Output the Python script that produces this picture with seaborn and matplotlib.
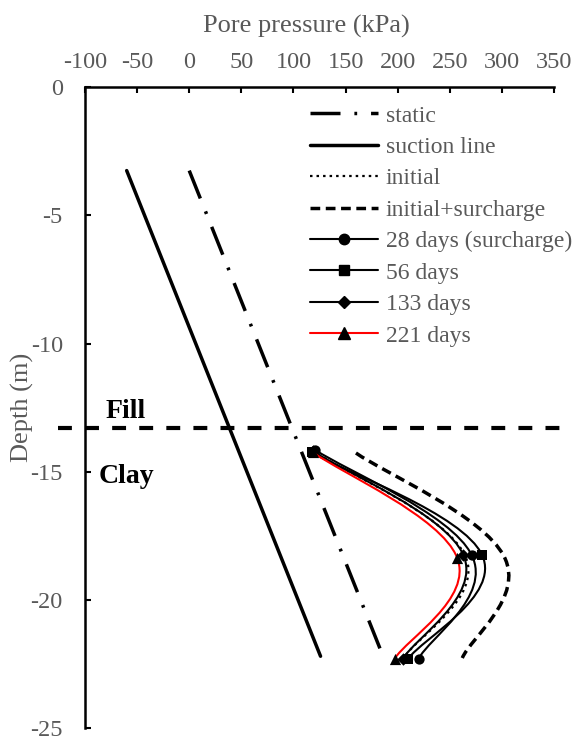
import numpy as np
import pandas as pd
import matplotlib
matplotlib.use("Agg")
import matplotlib.pyplot as plt
import seaborn as sns
from matplotlib.path import Path
from matplotlib.patches import PathPatch
from matplotlib.lines import Line2D

# ---------------- data ----------------
static_depth = [-3.25, -22.2]
static_pp = [0, 186]
suction_depth = [-3.25, -22.2]
suction_pp = [-60, 126]

initial_depth = [-14.2, -18.3, -22.25]
initial_pp = [119, 265, 206]
surcharge_depth = [-14.27, -18.3, -22.27]
surcharge_pp = [160, 302, 262]

d28_depth = [-14.15, -18.25, -22.3]
d28_pp = [121, 271, 220]
d56_depth = [-14.25, -18.25, -22.3]
d56_pp = [118, 281, 210]
d133_depth = [-14.2, -18.25, -22.3]
d133_pp = [119, 263, 205]
d221_depth = [-14.25, -18.35, -22.3]
d221_pp = [119, 257, 197]

fill_clay_depth = -13.3
x_ticks = [-100, -50, 0, 50, 100, 150, 200, 250, 300, 350]
y_ticks = [0, -5, -10, -15, -20, -25]

labels = ["static", "suction line", "initial", "initial+surcharge",
          "28 days (surcharge)", "56 days", "133 days", "221 days"]

# ---------------- style ----------------
sns.set_theme(style="white")
plt.rcParams["font.family"] = ["Liberation Serif", "DejaVu Serif"]
plt.rcParams["axes.unicode_minus"] = False
plt.rcParams["lines.scale_dashes"] = False
GREY = "#595959"

fig = plt.figure(figsize=(5.77, 7.41), dpi=100)
ax = fig.add_axes([85 / 577, 1 - 728 / 741, (554 - 85) / 577, (728 - 87.3) / 741])

STATIC_DASH = (0, (21.6, 10, 2, 10))
SURCH_DASH = (0, (7, 4))
DOT = (0, (1.8, 2.9))
SMOOTH = 0.2


def smooth_path(xs, ys):
    """Excel-style smoothed line through the points (cubic Bezier)."""
    P = np.column_stack([xs, ys]).astype(float)
    n = len(P)
    verts = [P[0]]
    codes = [Path.MOVETO]
    for i in range(n - 1):
        p_prev = P[i - 1] if i > 0 else P[i]
        p_next2 = P[i + 2] if i + 2 < n else P[i + 1]
        c1 = P[i] + (P[i + 1] - p_prev) * SMOOTH
        c2 = P[i + 1] - (p_next2 - P[i]) * SMOOTH
        verts += [c1, c2, P[i + 1]]
        codes += [Path.CURVE4] * 3
    return Path(verts, codes)


# straight lines
df_static = pd.DataFrame({"pp": static_pp, "depth": static_depth})
df_suction = pd.DataFrame({"pp": suction_pp, "depth": suction_depth})
sns.lineplot(data=df_static, x="pp", y="depth", sort=False, ax=ax,
             color="black", lw=2.5)
ax.lines[-1].set_linestyle(STATIC_DASH)
sns.lineplot(data=df_suction, x="pp", y="depth", sort=False, ax=ax,
             color="black", lw=2.5)

# smooth curves
curves = [
    (initial_pp, initial_depth, "black", 1.6, DOT, None),
    (surcharge_pp, surcharge_depth, "black", 2.5, SURCH_DASH, None),
    (d28_pp, d28_depth, "black", 1.5, "-", "o"),
    (d56_pp, d56_depth, "black", 1.5, "-", "s"),
    (d133_pp, d133_depth, "black", 1.5, "-", "D"),
    (d221_pp, d221_depth, "red", 1.5, "-", "^"),
]
z = 3
for xs, ys, col, lw, ls, mk in curves:
    patch = PathPatch(smooth_path(xs, ys), facecolor="none", edgecolor=col,
                      lw=lw, linestyle=ls, zorder=z)
    ax.add_patch(patch)
    if mk is not None:
        size = {"o": 55, "s": 50, "D": 40, "^": 65}[mk]
        sns.scatterplot(x=xs, y=ys, marker=mk, s=size, color="black",
                        linewidth=0, ax=ax, zorder=z + 0.5)
    z += 1

# Fill / Clay boundary
ax.plot([-126, 363], [fill_clay_depth, fill_clay_depth], color="black",
        lw=3, linestyle=(0, (10, 9.5)), clip_on=False, zorder=2)
ax.text(-80, -12.9, "Fill", fontsize=20, fontweight="bold", color="black",
        ha="left", va="baseline")
ax.text(-86.7, -15.44, "Clay", fontsize=20, fontweight="bold", color="black",
        ha="left", va="baseline")

# axes
ax.set_xlim(-100, 350)
ax.set_ylim(-25, 0)
ax.set_xticks(x_ticks)
ax.set_yticks(y_ticks)
ax.xaxis.tick_top()
ax.xaxis.set_label_position("top")
for s in ["bottom", "right"]:
    ax.spines[s].set_visible(False)
for s in ["top", "left"]:
    ax.spines[s].set_visible(True)
    ax.spines[s].set_color("black")
    ax.spines[s].set_linewidth(1.8)
ax.tick_params(axis="x", which="both", direction="in", length=4, width=1.5,
               color="black", top=True, bottom=False, labeltop=True,
               labelbottom=False, labelsize=17.5, labelcolor=GREY, pad=10.5)
ax.tick_params(axis="y", which="both", direction="in", length=4, width=1.5,
               color="black", left=True, right=False, labelsize=17.5,
               labelcolor=GREY, pad=16)
ax.set_xlabel("Pore pressure (kPa)", fontsize=19, color=GREY)
ax.set_ylabel("Depth (m)", fontsize=19, color=GREY)
ax.xaxis.set_label_coords(0.4725, 1.0855)
ax.yaxis.set_label_coords(-0.108, 0.5)
ax.grid(False)

# legend
handles = [
    Line2D([], [], color="black", lw=2.5, linestyle=STATIC_DASH),
    Line2D([], [], color="black", lw=2.5),
    Line2D([], [], color="black", lw=1.6, linestyle=DOT),
    Line2D([], [], color="black", lw=2.5, linestyle=SURCH_DASH),
    Line2D([], [], color="black", lw=1.5, marker="o", markersize=7.5),
    Line2D([], [], color="black", lw=1.5, marker="s", markersize=7),
    Line2D([], [], color="black", lw=1.5, marker="D", markersize=6.3),
    Line2D([], [], color="red", lw=1.5, marker="^", markersize=8,
           markerfacecolor="black", markeredgecolor="black"),
]
ax.legend(handles, labels, loc="upper left",
          bbox_to_anchor=(310 / 577, 1 - 105 / 741),
          bbox_transform=fig.transFigure, frameon=False, fontsize=17,
          handlelength=2.9, handletextpad=0.3, labelspacing=0.42,
          borderpad=0, borderaxespad=0, labelcolor=GREY)

fig.savefig("out.png", dpi=100)
